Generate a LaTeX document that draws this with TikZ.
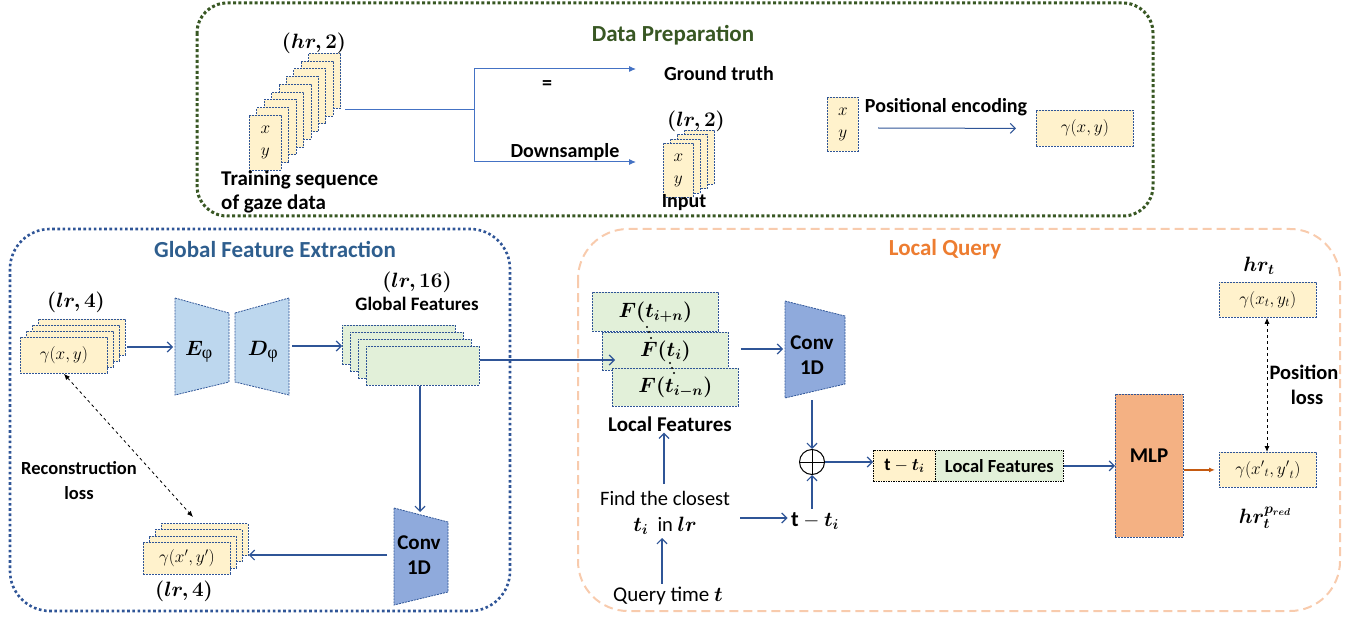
\documentclass[tikz,border=0pt]{standalone}
\usepackage{fontspec}
\setmainfont{Carlito}
\newfontfamily\grkfont{Liberation Serif}
\usepackage{amsmath}
\usepackage{bm}
\usetikzlibrary{arrows.meta}
\definecolor{dpgreen}{HTML}{385723}
\definecolor{gblue}{HTML}{2F5597}
\definecolor{titleblue}{HTML}{2E5E8E}
\definecolor{lorange}{HTML}{F8CBAD}
\definecolor{torange}{HTML}{ED7D31}
\definecolor{cyellow}{HTML}{FFF2CC}
\definecolor{cgreen}{HTML}{E2F0D9}
\definecolor{lblue}{HTML}{BDD7EE}
\definecolor{mblue}{HTML}{8FAADC}
\definecolor{mlpc}{HTML}{F4B183}
\definecolor{ablue}{HTML}{4472C4}
\definecolor{darkor}{HTML}{C55A11}
\tikzset{
  card/.style={draw=gblue, fill=cyellow, dash pattern=on 2pt off 1pt, line width=0.8pt, inner sep=0pt, anchor=north west},
  gcard/.style={card, fill=cgreen},
  lbl/.style={font=\fontsize{20}{24}\selectfont\bfseries, inner sep=1pt},
  mlbl/.style={font=\fontsize{20}{22}\selectfont, inner sep=1pt},
  ttl/.style={font=\fontsize{23}{26}\selectfont\bfseries, inner sep=1pt},
  arr/.style={draw=gblue, line width=1.2pt, -{Straight Barb[length=5pt,width=10pt]}},
  larr/.style={draw=ablue, line width=1pt, -{Latex[length=7pt,width=6pt]}},
  lline/.style={draw=ablue, line width=1pt},
  dlarr/.style={draw=black, line width=0.8pt, dashed, {Latex[length=6pt,width=5pt]}-{Latex[length=6pt,width=5pt]}},
  trap/.style={draw=gblue, dash pattern=on 2pt off 1pt, line width=0.8pt},
}
\begin{document}
\begin{tikzpicture}[x=1pt,y=-1pt]
\useasboundingbox (0,0) rectangle (1367,620);
% ---------------- Data preparation ----------------
\draw[dpgreen, line width=3pt, dash pattern=on 3pt off 2.4pt, rounded corners=30] (197,3) rectangle (1153,216);
\node[ttl, text=dpgreen] (dptitle) at (673,35) {Data Preparation};
\foreach \i in {8,...,1}{
  \node[card, minimum width=32, minimum height=55] (tr\i) at ({249+7.4*\i},{115-7.75*\i}) {};
}
\node[card, minimum width=32, minimum height=55, align=center, font=\fontsize{17}{19}\selectfont] (tr0) at (249,115) {$x$\\[3pt]$y$};
\node[mlbl, font=\fontsize{22}{24}\selectfont] (hr2) at (314,43) {$\bm{(hr,2)}$};
\node[lbl, align=left, anchor=north west, font=\fontsize{21}{24}\selectfont\bfseries] (trlbl) at (220,170) {Training sequence\\of gaze data};
\coordinate (trout) at (345,110);
\coordinate (br) at (474,110);
\coordinate (gtin) at (636,69);
\coordinate (dsin) at (636,162);
\draw[lline] (trout) -- (br);
\draw[larr] (br) |- (gtin);
\draw[larr] (br) |- (dsin);
\node[lbl] (eq) at (547,85) {=};
\node[lbl] (ds) at (565,152) {Downsample};
\node[lbl] (gt) at (719,74) {Ground truth};
\foreach \i in {3,...,1}{
  \node[card, minimum width=30, minimum height=54] (in\i) at ({663+7*\i},{143-4.3*\i}) {};
}
\node[card, minimum width=30, minimum height=54, align=center, font=\fontsize{17}{19}\selectfont] (in0) at (663,143) {$x$\\[3pt]$y$};
\node[mlbl, font=\fontsize{22}{24}\selectfont] (lr2) at (696,121) {$\bm{(lr,2)}$};
\node[lbl] (inputlbl) at (684,203) {Input};
\node[card, minimum width=31, minimum height=54, align=center, font=\fontsize{17}{19}\selectfont] (pe) at (827,97) {$x$\\[3pt]$y$};
\node[lbl] (pelbl) at (946,107) {Positional encoding};
\node[card, minimum width=97, minimum height=36, font=\fontsize{18}{20}\selectfont] (gxy) at (1036,110) {$\gamma(x,y)$};
\draw[arr, line width=1pt] (878,128) -- (gxy.west -| 1016,0);
% ---------------- Global feature extraction ----------------
\draw[gblue, line width=2.6pt, dash pattern=on 2.6pt off 2.6pt, rounded corners=40] (10,229) rectangle (510,611);
\node[ttl, text=titleblue] (gtitle) at (275,249) {Global Feature Extraction};
\foreach \i in {3,...,1}{
  \node[card, minimum width=87, minimum height=36] (l\i) at ({20+6*\i},{337-6*\i}) {};
}
\node[card, minimum width=87, minimum height=36, font=\fontsize{17}{19}\selectfont] (l0) at (20,337) {$\gamma(x,y)$};
\node[mlbl] (lr4a) at (76,302) {$\bm{(lr,4)}$};
\draw[trap, fill=lblue] (175,298) -- (229,313) -- (229,382) -- (175,395) -- cycle;
\draw[trap, fill=lblue] (235,313) -- (289,298) -- (289,395) -- (235,382) -- cycle;
\node[font=\fontsize{22}{24}\selectfont] (enc) at (199,352) {$\bm{E}_{\text{\grkfont\fontsize{18}{20}\selectfont φ}}$};
\node[font=\fontsize{22}{24}\selectfont] (dec) at (263,352) {$\bm{D}_{\text{\grkfont\fontsize{18}{20}\selectfont φ}}$};
\coordinate (encin) at (173,347);
\coordinate (decout) at (292,346);
\draw[arr] (127,347) -- (encin);
\foreach \i in {3,...,1}{
  \node[gcard, minimum width=113, minimum height=39] (g\i) at ({366-8*\i},{346-7*\i}) {};
}
\node[gcard, minimum width=113, minimum height=39] (g0) at (366,346) {};
\draw[arr] (decout) -- (g3.west |- decout);
\node[mlbl] (lr16) at (417,282) {$\bm{(lr,16)}$};
\node[lbl, font=\fontsize{19}{22}\selectfont\bfseries] (gflbl) at (417,304) {Global Features};
\draw[trap, fill=mblue] (394,508) -- (448,522) -- (448,592) -- (394,605) -- cycle;
\node[lbl, align=center, font=\fontsize{21}{25}\selectfont\bfseries] (conv1) at (419,555) {Conv\\1D};
\coordinate (conv1top) at (420,512);
\draw[arr] (g0.south -| 420,0) -- (conv1top);
\foreach \i in {3,...,1}{
  \node[card, minimum width=87, minimum height=32] (o\i) at ({143+6*\i},{542-6.3*\i}) {};
}
\node[card, minimum width=87, minimum height=32, font=\fontsize{17}{19}\selectfont] (o0) at (143,542) {$\gamma(x',y')$};
\node[mlbl] (lr4b) at (184,591) {$\bm{(lr,4)}$};
\coordinate (conv1left) at (387,555);
\draw[arr] (conv1left) -- (o3.east |- conv1left);
\coordinate (recend) at (193,517);
\draw[dlarr] (l0.south) -- (recend);
\node[lbl, align=center, font=\fontsize{18.5}{25}\selectfont\bfseries] (reclbl) at (79,481) {Reconstruction\\loss};
% ---------------- Local query ----------------
\draw[lorange, line width=2pt, dash pattern=on 9pt off 5pt, rounded corners=50] (578,229) rectangle (1340,611);
\node[ttl, text=torange] (ltitle) at (945,249) {Local Query};
\node[gcard, minimum width=126, minimum height=39, font=\fontsize{20}{22}\selectfont] (fp) at (592,292) {$\bm{F(t_{i+n})}$};
\node[gcard, minimum width=126, minimum height=38, font=\fontsize{20}{22}\selectfont] (fi) at (602,332) {$\bm{F(t_{i})}$};
\node[gcard, minimum width=126, minimum height=38, font=\fontsize{20}{22}\selectfont] (fm) at (612,368) {$\bm{F(t_{i-n})}$};
\foreach \p in {(647,327),(649,332),(651,338),(670,363),(672,368),(674,373)}{
  \fill \p circle (1.2);
}
\draw[arr] (g0.east |- 0,360) -- (615,360);
\node[lbl, font=\fontsize{21}{24}\selectfont\bfseries] (lflbl) at (670,424) {Local Features};
\draw[trap, fill=mblue] (785,301) -- (845,316) -- (845,384) -- (785,398) -- cycle;
\node[lbl, align=center, font=\fontsize{21}{25}\selectfont\bfseries] (conv2) at (812,355) {Conv\\1D};
\coordinate (conv2in) at (783,349);
\coordinate (conv2bot) at (812,400);
\draw[arr] (fi.east |- conv2in) ++(12,0) -- (conv2in);
\node[circle, draw, line width=1pt, minimum size=25, inner sep=0pt] (plus) at (812,462) {};
\draw[line width=0.9pt] (plus.north) -- (plus.south) (plus.west) -- (plus.east);
\draw[arr] (conv2bot) -- (plus.north);
\node[draw=black, fill=cyellow, dash pattern=on 1.5pt off 1pt, line width=0.8pt, minimum width=62, minimum height=31, anchor=north west, inner sep=0pt, font=\fontsize{18}{20}\selectfont\bfseries] (tti) at (873,450) {$\mathbf{t}-\bm{t_i}$};
\node[draw=black, fill=cgreen, dash pattern=on 1.5pt off 1pt, line width=0.8pt, minimum width=128, minimum height=31, anchor=north west, inner sep=0pt, font=\fontsize{18.5}{20}\selectfont\bfseries] (lfbox) at (935,450) {Local Features};
\draw[arr] (plus.east) -- (plus.east -| tti.west);
\node[draw=gblue, fill=mlpc, dash pattern=on 2pt off 1pt, line width=0.8pt, minimum width=68, minimum height=143, anchor=north west, inner sep=0pt] (mlp) at (1115,394) {};
\node[lbl, font=\fontsize{21}{24}\selectfont\bfseries] (mlplbl) at (1149,456) {MLP};
\draw[arr] (lfbox.east) -- (mlp.west |- lfbox.east);
\node[card, minimum width=97, minimum height=35, font=\fontsize{18.5}{20}\selectfont] (pred) at (1219,452) {$\gamma({x'}_t,{y'}_t)$};
\node[card, minimum width=97, minimum height=35, font=\fontsize{18.5}{20}\selectfont] (gtt) at (1219,282) {$\gamma(x_t,y_t)$};
\draw[draw=darkor, line width=1.2pt, -{Latex[length=6pt,width=5pt]}] (mlp.east |- pred.west) -- ([xshift=-4pt]pred.west);
\node[mlbl] (hrt) at (1259,266) {$\bm{hr_t}$};
\node[mlbl] (hrp) at (1265,518) {$\bm{hr_t^{p_{red}}}$};
\draw[dlarr] (gtt.south -| 1267,0) -- (pred.north -| 1267,0);
\node[lbl, align=center, font=\fontsize{20.5}{25}\selectfont\bfseries] (poslbl) at (1304,385) {Position\\\hspace*{6pt}loss};
\node[font=\fontsize{20.5}{26}\selectfont, align=center] (find) at (665,513) {Find the closest\\$\bm{t_i}$\ \ in $\bm{lr}$};
\node[font=\fontsize{22}{24}\selectfont] (tmt) at (815,521) {$\mathbf{t}-\bm{t_i}$};
\node[font=\fontsize{21}{24}\selectfont] (qt) at (668,596) {Query time $\bm{t}$};
\draw[arr] (664,484) -- (lflbl.south -| 664,0);
\draw[arr] (740,518) -- (tmt.west |- 0,518);
\draw[arr] (tmt.north -| plus.south) -- (plus.south);
\draw[arr] (qt.north -| 662,0) -- (662,538);
\end{tikzpicture}
\end{document}
